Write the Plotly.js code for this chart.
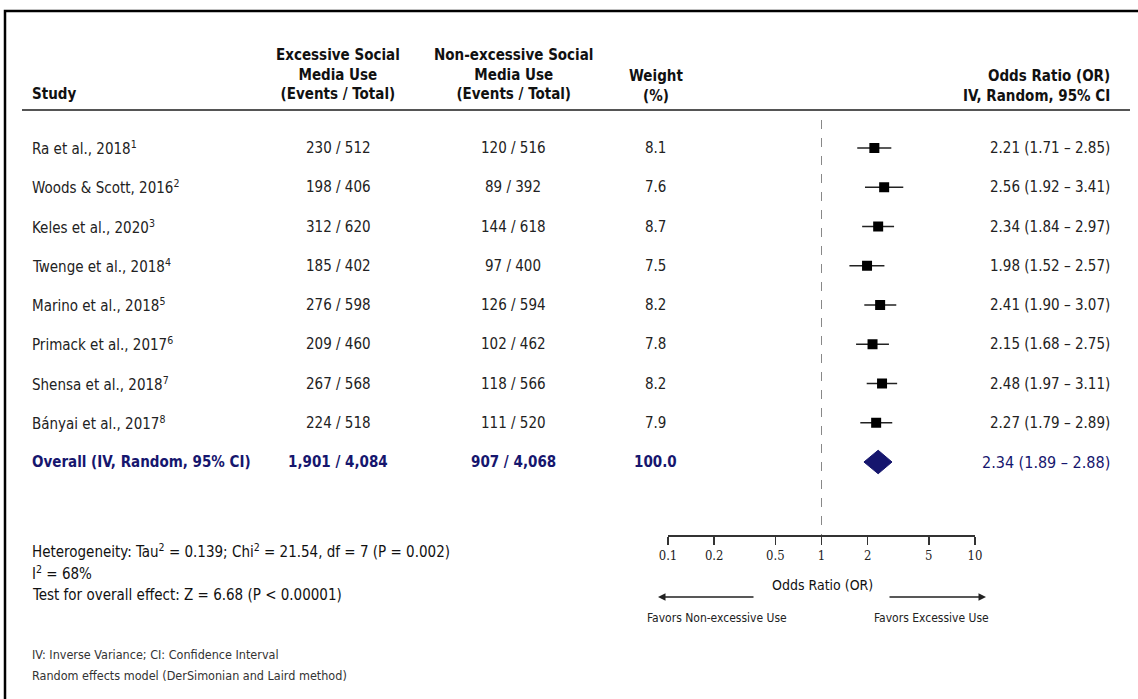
<!DOCTYPE html>
<html>
<head>
<meta charset="utf-8">
<script src="https://cdn.plot.ly/plotly-3.0.1.min.js"></script>
<style>html,body{margin:0;padding:0;background:#fff;}#chart{width:1138px;height:699px;}</style>
</head>
<body>
<div id="chart"></div>
<script>
// ---- data ----
const studies = ['Ra et al., 2018','Woods & Scott, 2016','Keles et al., 2020','Twenge et al., 2018','Marino et al., 2018','Primack et al., 2017','Shensa et al., 2018','Bányai et al., 2017'];
const refs = [1,2,3,4,5,6,7,8];
const expEvents = [230,198,312,185,276,209,267,224];
const expTotal = [512,406,620,402,598,460,568,518];
const ctrlEvents = [120,89,144,97,126,102,118,111];
const ctrlTotal = [516,392,618,400,594,462,566,520];
const weights = [8.1,7.6,8.7,7.5,8.2,7.8,8.2,7.9];
const oddsRatio = [2.21,2.56,2.34,1.98,2.41,2.15,2.48,2.27];
const ciLow = [1.71,1.92,1.84,1.52,1.90,1.68,1.97,1.79];
const ciHigh = [2.85,3.41,2.97,2.57,3.07,2.75,3.11,2.89];
const overallLabel = 'Overall (IV, Random, 95% CI)';
const overallExp = [1901,4084];
const overallCtrl = [907,4068];
const overallWeight = 100.0;
const overallOR = [2.34,1.89,2.88];
const tickVals = [0.1,0.2,0.5,1,2,5,10];
const tickText = ['0.1','0.2','0.5','1','2','5','10'];

// ---- layout helpers ----
const W = 1138, H = 699;
const px = v => v / W;
const py = v => 1 - v / H;
const rowTop = 148, rowStep = 39.25;
const axisY = 535, plotTop = 120;
const FONT = '"Liberation Sans Narrow","DejaVu Sans Condensed","Roboto Condensed",Arial,sans-serif';
const TXT = '#222';
const NAVY = '#16166e';
const fmt = n => String(n).replace(/\B(?=(\d{3})+(?!\d))/g, ',');
const ciStr = (o,l,h) => o.toFixed(2) + ' (' + l.toFixed(2) + ' \u2013 ' + h.toFixed(2) + ')';

const colX = {study: 30, exp: 338, ctrl: 513, weight: 656, ci: 1112};

const ann = [];
function add(text, x, y, opts) {
  ann.push(Object.assign({text: text, x: x, y: y, xref: 'paper', yref: 'paper', showarrow: false,
    xanchor: 'center', yanchor: 'middle', font: {family: FONT, size: 15, color: TXT}}, opts || {}));
}

// header
const hb = {family: FONT, size: 15, color: '#111', weight: 'bold'};
add('<b>Study</b>', px(colX.study), py(94), {xanchor: 'left', font: hb});
add('<b>Excessive Social<br>Media Use<br>(Events / Total)</b>', px(colX.exp), py(75), {font: hb});
add('<b>Non-excessive Social<br>Media Use<br>(Events / Total)</b>', px(colX.ctrl), py(74), {font: hb});
add('<b>Weight<br>(%)</b>', px(colX.weight), py(86), {font: hb});
add('<b>Odds Ratio (OR)<br>IV, Random, 95% CI</b>', px(colX.ci), py(86), {xanchor: 'right', align: 'right', font: hb});

// rows
studies.forEach((s, i) => {
  const o = {yref: 'y'};
  add(s + '<sup>' + refs[i] + '</sup>', px(colX.study), i, Object.assign({xanchor: 'left'}, o));
  add(expEvents[i] + ' / ' + expTotal[i], px(colX.exp), i, o);
  add(ctrlEvents[i] + ' / ' + ctrlTotal[i], px(colX.ctrl), i, o);
  add(weights[i].toFixed(1), px(colX.weight), i, o);
  add(ciStr(oddsRatio[i], ciLow[i], ciHigh[i]), px(colX.ci), i, Object.assign({xanchor: 'right'}, o));
});
const oi = studies.length;
const nb = {family: FONT, size: 15, color: NAVY};
add('<b>' + overallLabel + '</b>', px(colX.study), oi, {yref: 'y', xanchor: 'left', font: nb});
add('<b>' + fmt(overallExp[0]) + ' / ' + fmt(overallExp[1]) + '</b>', px(colX.exp), oi, {yref: 'y', font: nb});
add('<b>' + fmt(overallCtrl[0]) + ' / ' + fmt(overallCtrl[1]) + '</b>', px(colX.ctrl), oi, {yref: 'y', font: nb});
add('<b>' + overallWeight.toFixed(1) + '</b>', px(colX.weight), oi, {yref: 'y', font: nb});
add(ciStr(overallOR[0], overallOR[1], overallOR[2]), px(colX.ci), oi, {yref: 'y', xanchor: 'right', font: {family: FONT, size: 16, color: NAVY}});

// footer
const ff = {family: FONT, size: 15, color: '#111'};
add('Heterogeneity: Tau<sup>2</sup> = 0.139; Chi<sup>2</sup> = 21.54, df = 7 (P = 0.002)', px(30), py(551), {xanchor: 'left', font: ff});
add('I<sup>2</sup> = 68%', px(30), py(573), {xanchor: 'left', font: ff});
add('Test for overall effect: Z = 6.68 (P < 0.00001)', px(30), py(595), {xanchor: 'left', font: ff});
const fs = {family: FONT, size: 12.5, color: '#333'};
add('IV: Inverse Variance; CI: Confidence Interval', px(30), py(654), {xanchor: 'left', font: fs});
add('Random effects model (DerSimonian and Laird method)', px(30), py(675), {xanchor: 'left', font: fs});

// direction arrows and labels
ann.push({x: px(658), y: py(597), xref: 'paper', yref: 'paper', ax: 97, ay: 0, text: '', showarrow: true,
  arrowhead: 2, arrowsize: 1, arrowwidth: 1.5, arrowcolor: '#222'});
ann.push({x: px(986), y: py(597), xref: 'paper', yref: 'paper', ax: -98, ay: 0, text: '', showarrow: true,
  arrowhead: 2, arrowsize: 1, arrowwidth: 1.5, arrowcolor: '#222'});
add('Favors Non-excessive Use', px(717), py(618), {font: {family: FONT, size: 12, color: '#222'}});
add('Favors Excessive Use', px(931), py(618), {font: {family: FONT, size: 12, color: '#222'}});
add('Odds Ratio (OR)', px(822), py(585), {font: {family: FONT, size: 14, color: '#111'}});

// y axis range so that row i sits at rowTop + i*rowStep
const yBottom = (axisY - rowTop) / rowStep;
const yTop = (plotTop - rowTop) / rowStep;

const traces = [
  {x: [1, 1], y: [yTop, yBottom + 0.2], mode: 'lines', line: {color: '#888', width: 1, dash: 'dash'},
   hoverinfo: 'skip', cliponaxis: false},
  {x: oddsRatio, y: studies.map((s, i) => i), mode: 'markers', type: 'scatter',
   marker: {symbol: 'square', size: 10, color: '#000'},
   error_x: {type: 'data', symmetric: false,
     array: oddsRatio.map((o, i) => ciHigh[i] - o),
     arrayminus: oddsRatio.map((o, i) => o - ciLow[i]),
     width: 0, thickness: 1.5, color: '#222'}},
  {x: [overallOR[1], overallOR[0], overallOR[2], overallOR[0], overallOR[1]],
   y: [oi, oi - 0.3, oi, oi + 0.3, oi], mode: 'lines', fill: 'toself',
   fillcolor: NAVY, line: {color: NAVY, width: 1}}
];

const layout = {
  width: W, height: H, margin: {l: 0, r: 0, t: 0, b: 0},
  paper_bgcolor: '#fff', plot_bgcolor: 'rgba(0,0,0,0)', showlegend: false,
  xaxis: {type: 'log', range: [-1, 1], domain: [px(668), px(975)], showgrid: false, zeroline: false,
    showline: true, linecolor: '#333', linewidth: 1.5, ticks: 'outside', ticklen: 8, tickwidth: 1.5,
    tickcolor: '#333', tickmode: 'array', tickvals: tickVals, ticktext: tickText,
    tickfont: {family: '"DejaVu Serif Condensed","Liberation Serif",serif', size: 13, color: '#222'},
    fixedrange: true},
  yaxis: {range: [yBottom, yTop], domain: [py(axisY), py(plotTop)], visible: false, fixedrange: true},
  annotations: ann,
  shapes: [
    {type: 'rect', xref: 'paper', yref: 'paper', x0: px(5), x1: px(1150), y0: py(11), y1: py(720),
     line: {color: '#000', width: 2.5}},
    {type: 'line', xref: 'paper', yref: 'paper', x0: px(22), x1: px(1130), y0: py(110), y1: py(110),
     line: {color: '#555', width: 2}}
  ]
};

Plotly.newPlot('chart', traces, layout, {displayModeBar: false, staticPlot: true});
</script>
</body>
</html>
